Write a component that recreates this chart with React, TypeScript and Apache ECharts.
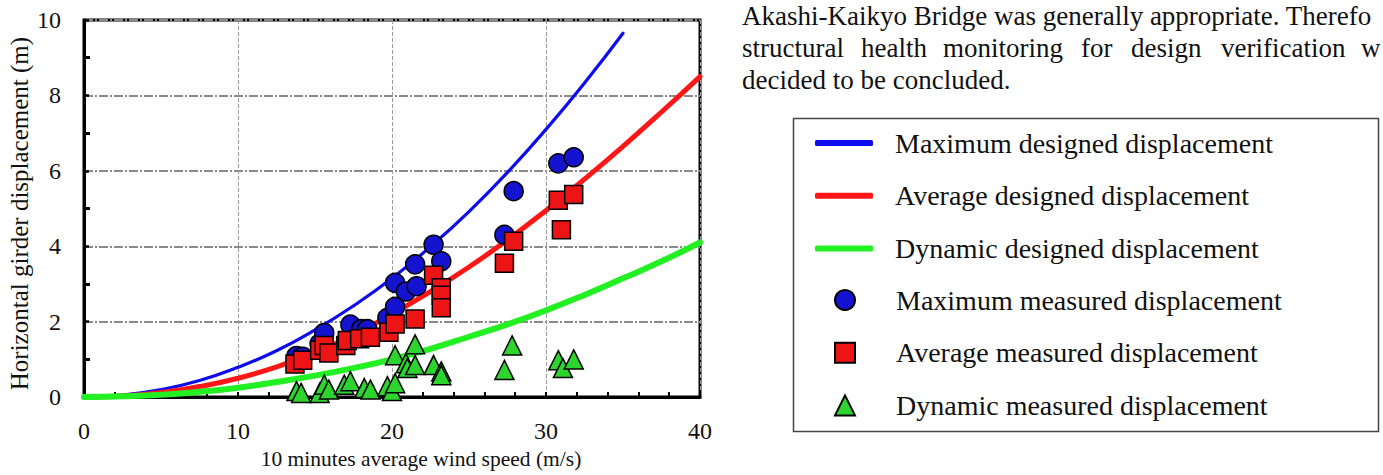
import React, { useEffect, useRef } from "react";
import * as echarts from "echarts";

const FONT = '"Liberation Serif", "Times New Roman", serif';

// Designed curves: [wind speed (m/s), displacement (m)]
const maxDesigned: number[][] = [
  [0, 0], [2.5, 0.05], [5, 0.2], [7.5, 0.44], [10, 0.79], [12.5, 1.23], [15, 1.78],
  [17.5, 2.42], [20, 3.15], [22.5, 3.99], [25, 4.92], [27.5, 5.96], [30, 7.1],
  [32.5, 8.33], [35, 9.65],
];
const avgDesigned: number[][] = [
  [0, 0], [2.5, 0.03], [5, 0.12], [7.5, 0.28], [10, 0.5], [12.5, 0.8], [15, 1.18],
  [17.5, 1.65], [20, 2.2], [22.5, 2.8], [25, 3.45], [27.5, 4.17], [30, 4.95],
  [32.5, 5.78], [35, 6.65], [37.5, 7.56], [40, 8.5],
];
const dynDesigned: number[][] = [
  [0, 0], [2.5, 0.02], [5, 0.06], [7.5, 0.14], [10, 0.25], [12.5, 0.4], [15, 0.57],
  [17.5, 0.77], [20, 1.0], [22.5, 1.28], [25, 1.6], [27.5, 1.93], [30, 2.3],
  [32.5, 2.71], [35, 3.15], [37.5, 3.6], [40, 4.1],
];

// Measured points
const maxMeasured: number[][] = [
  [13.8, 1.09], [14.2, 1.07], [15.3, 1.42], [15.6, 1.7], [17.3, 1.92], [18.0, 1.8],
  [18.4, 1.8], [19.7, 2.1], [20.2, 2.39], [20.2, 3.03], [20.9, 2.8], [21.6, 2.94],
  [21.5, 3.52], [22.7, 4.04], [23.2, 3.6], [27.3, 4.3], [27.9, 5.46], [30.8, 6.2],
  [31.8, 6.36],
];
const avgMeasured: number[][] = [
  [13.7, 0.88], [14.2, 0.98], [15.3, 1.24], [15.6, 1.37], [15.9, 1.17], [17.0, 1.37],
  [17.1, 1.5], [17.9, 1.55], [18.6, 1.59], [19.8, 1.72], [20.2, 1.94], [21.5, 2.07],
  [22.7, 3.23], [23.2, 2.9], [23.2, 2.7], [23.2, 2.37], [27.3, 3.55], [27.9, 4.13],
  [30.8, 5.22], [31.0, 4.44], [31.8, 5.37],
];
const dynMeasured: number[][] = [
  [13.8, 0.16], [14.1, 0.11], [15.3, 0.11], [15.6, 0.33], [15.9, 0.2], [16.9, 0.33],
  [17.3, 0.42], [18.2, 0.24], [18.6, 0.2], [19.7, 0.29], [20.0, 0.16], [20.2, 0.37],
  [20.2, 1.11], [20.9, 0.9], [21.0, 0.77], [21.5, 0.85], [21.5, 1.4], [22.7, 0.85],
  [23.2, 0.68], [23.2, 0.58], [27.3, 0.72], [27.8, 1.37], [30.8, 0.98], [31.1, 0.77],
  [31.8, 1.0],
];

const seriesNames = [
  "Maximum designed displacement",
  "Average designed displacement",
  "Dynamic designed displacement",
  "Maximum measured displacement",
  "Average measured displacement",
  "Dynamic measured displacement",
];

const xAxisTitle = "10 minutes average wind speed (m/s)";
const yAxisTitle = "Horizontal girder displacement (m)";

const paraLine1 = "Akashi-Kaikyo Bridge was generally appropriate. Therefo";
const paraLine2Words = ["structural", "health", "monitoring", "for", "design", "verification", "w"];
const paraLine2X = [742, 861, 943, 1081, 1131, 1221, 1361];
const paraLine3 = "decided to be concluded.";

const BLUE = "#0c0cee";
const RED = "#ff1616";
const GREEN = "#22f022";

function buildOption(): any {
  const paraStyle = { fontFamily: FONT, fontSize: 27, fill: "#111", verticalAlign: "middle" };
  const graphic: any[] = [
    { type: "text", x: 742, y: 16, style: { ...paraStyle, text: paraLine1 } },
    ...paraLine2Words.map((w, i) => ({
      type: "text",
      x: paraLine2X[i],
      y: 48,
      style: { ...paraStyle, text: w },
    })),
    { type: "text", x: 742, y: 80, style: { ...paraStyle, text: paraLine3 } },
    {
      type: "rect",
      shape: { x: 793.5, y: 118.5, width: 585, height: 313 },
      style: { fill: "none", stroke: "#444", lineWidth: 1.5 },
      z: 1,
    },
  ];

  const legendText = {
    fontFamily: FONT,
    fontSize: 28,
    color: "#111",
    lineHeight: 28,
  };

  return {
    animation: false,
    backgroundColor: "#fff",
    textStyle: { fontFamily: FONT },
    grid: {
      left: 84,
      top: 20,
      width: 616,
      height: 385,
      show: true,
      borderColor: "#000",
      borderWidth: 3,
      backgroundColor: "transparent",
    },
    xAxis: {
      type: "value",
      min: 0,
      max: 40,
      interval: 10,
      name: xAxisTitle,
      nameLocation: "middle",
      nameGap: 47,
      nameTextStyle: { fontFamily: FONT, fontSize: 21.5, color: "#111", padding: [0, 0, 0, 58] },
      axisLine: { show: true, onZero: false, lineStyle: { color: "#000", width: 3 } },
      axisTick: { show: true, inside: true, length: 5, lineStyle: { color: "#000", width: 2 } },
      minorTick: { show: true, splitNumber: 5, length: 5, lineStyle: { color: "#000", width: 2 } },
      axisLabel: { fontFamily: FONT, fontSize: 24, color: "#111", margin: 22 },
      splitLine: { show: true, lineStyle: { color: "#9a9a9a", width: 1, type: [4, 2] } },
    },
    yAxis: {
      type: "value",
      min: 0,
      max: 10,
      interval: 2,
      name: yAxisTitle,
      nameLocation: "middle",
      nameGap: 52,
      nameTextStyle: { fontFamily: FONT, fontSize: 25, color: "#111", padding: [0, 10, 0, 0] },
      axisLine: { show: true, onZero: false, lineStyle: { color: "#000", width: 3 } },
      axisTick: { show: true, inside: true, length: 5, lineStyle: { color: "#000", width: 2.5 } },
      minorTick: { show: true, splitNumber: 2, length: 6, lineStyle: { color: "#000", width: 3 } },
      axisLabel: { fontFamily: FONT, fontSize: 24, color: "#111", margin: 23 },
      splitLine: { show: true, lineStyle: { color: "#8a8a8a", width: 2, type: [9, 2, 2, 2] } },
    },
    legend: [
      {
        orient: "vertical",
        left: 815,
        top: 129,
        padding: 0,
        itemWidth: 58,
        itemHeight: 6,
        itemGap: 24.7,
        selectedMode: false,
        textStyle: { ...legendText, padding: [0, 0, 0, 17] },
        data: [
          { name: seriesNames[0], icon: "roundRect", itemStyle: { color: BLUE } },
          { name: seriesNames[1], icon: "roundRect", itemStyle: { color: RED } },
          { name: seriesNames[2], icon: "roundRect", itemStyle: { color: GREEN } },
        ],
      },
      {
        orient: "vertical",
        left: 834,
        top: 286,
        padding: 0,
        itemWidth: 20,
        itemHeight: 20,
        itemGap: 24.7,
        selectedMode: false,
        textStyle: { ...legendText, padding: [0, 0, 0, 36] },
        data: [
          { name: seriesNames[3], icon: "circle" },
          { name: seriesNames[4], icon: "rect" },
          { name: seriesNames[5], icon: "triangle" },
        ],
      },
    ],
    graphic,
    series: [
      {
        name: seriesNames[0],
        type: "line",
        data: maxDesigned,
        smooth: true,
        symbol: "none",
        color: BLUE,
        lineStyle: { color: BLUE, width: 3.2, cap: "round" },
        z: 2,
      },
      {
        name: seriesNames[1],
        type: "line",
        data: avgDesigned,
        smooth: true,
        symbol: "none",
        color: RED,
        lineStyle: { color: RED, width: 5, cap: "round" },
        z: 3,
      },
      {
        name: seriesNames[2],
        type: "line",
        data: dynDesigned,
        smooth: true,
        symbol: "none",
        color: GREEN,
        lineStyle: { color: GREEN, width: 6, cap: "round" },
        z: 4,
      },
      {
        name: seriesNames[3],
        type: "scatter",
        data: maxMeasured,
        symbol: "circle",
        symbolSize: 19,
        itemStyle: { color: "#1414d0", borderColor: "#000", borderWidth: 1.5, opacity: 1 },
        z: 5,
      },
      {
        name: seriesNames[4],
        type: "scatter",
        data: avgMeasured,
        symbol: "rect",
        symbolSize: 18,
        itemStyle: { color: "#ec1414", borderColor: "#000", borderWidth: 1.5, opacity: 1 },
        z: 6,
      },
      {
        name: seriesNames[5],
        type: "scatter",
        data: dynMeasured,
        symbol: "triangle",
        symbolSize: 19,
        itemStyle: { color: "#2ed42e", borderColor: "#000", borderWidth: 1.5, opacity: 1 },
        z: 7,
      },
    ],
  };
}

export default function App() {
  const ref = useRef<HTMLDivElement>(null);
  useEffect(() => {
    if (!ref.current) return;
    const chart = echarts.init(ref.current, null, { renderer: "svg" });
    chart.setOption(buildOption());
    return () => chart.dispose();
  }, []);
  return (
    <div
      ref={ref}
      style={{ position: "fixed", left: 0, top: 0, width: 1383, height: 475, background: "#fff" }}
    />
  );
}
